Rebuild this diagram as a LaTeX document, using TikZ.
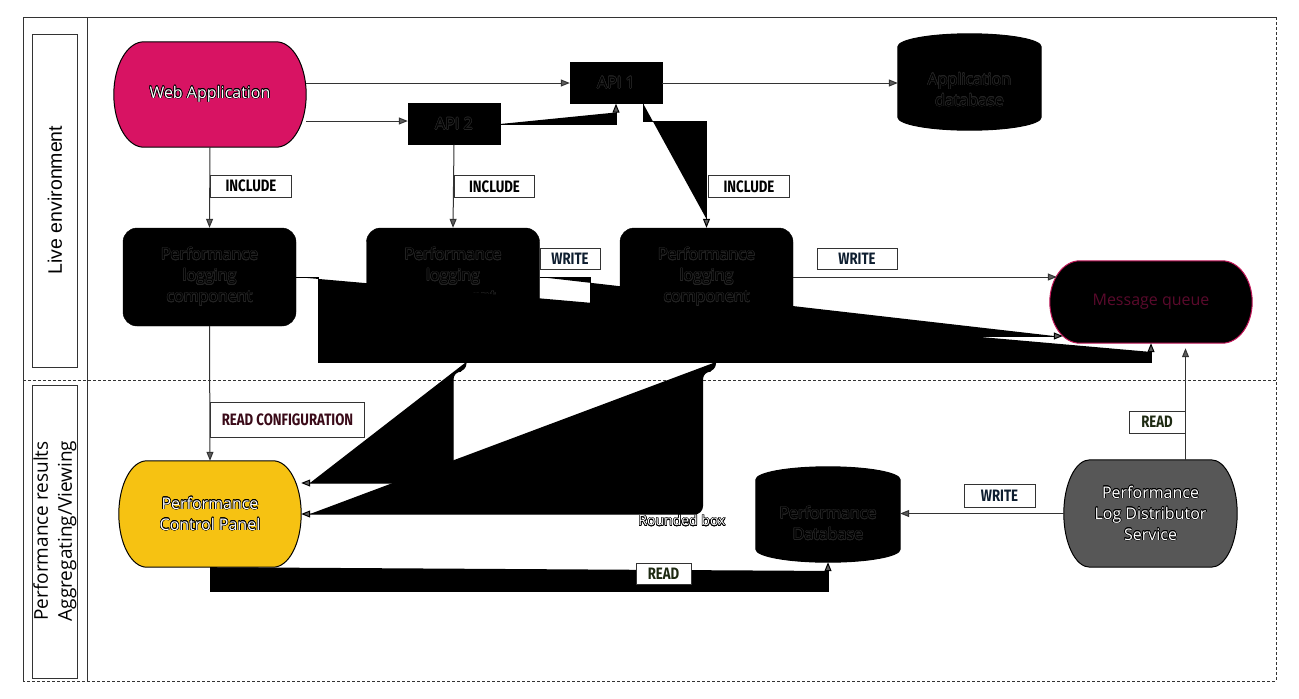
\documentclass[tikz,border=0pt]{standalone}
\usepackage{fontspec}
\setmainfont{Open Sans}
\newfontfamily\lanefont{Liberation Sans}
\newfontfamily\lblfont[FakeStretch=0.8]{Fira Sans}
\usepackage{contour}
\contourlength{0.55pt}
\usetikzlibrary{arrows.meta,calc}
\pgfdeclarelayer{background}
\pgfsetlayers{background,main}

\definecolor{webred}{HTML}{D81363}
\definecolor{panelyellow}{HTML}{F6C212}
\definecolor{distgray}{HTML}{575757}
\definecolor{queueline}{HTML}{C01658}
\definecolor{queuetext}{HTML}{5A0A2C}
\definecolor{linegray}{HTML}{333333}
\definecolor{tipgray}{HTML}{5C5C5C}
\definecolor{writeblue}{HTML}{0E1E30}
\definecolor{confred}{HTML}{3A0A18}
\definecolor{readgreen}{HTML}{1E2A12}

\newcommand{\halo}[1]{\contour{black}{#1}}
\newcommand{\dimhalo}[1]{\contour{black!86}{#1}}
% pill outline behind a node: node, fill, border, end radius
\newcommand{\pillpath}[4]{%
  \path[fill=#2,draw=#3,line width=1pt]
    let \p1=(#1.north), \p2=(#1.south), \n1={0.5*(\y1-\y2)} in
    ([xshift=#4]#1.north west) -- ([xshift=-#4]#1.north east)
    arc[start angle=90,end angle=-90,x radius=#4,y radius=\n1]
    -- ([xshift=#4]#1.south west)
    arc[start angle=270,end angle=90,x radius=#4,y radius=\n1] -- cycle;}
% cylinder outline behind a node: node, end radius
\newcommand{\dbpath}[2]{%
  \path[fill=black,draw=black,line width=1pt]
    let \p1=(#1.west), \p2=(#1.east), \n1={0.5*(\x2-\x1)} in
    ([yshift=-#2]#1.north west) arc[start angle=180,end angle=0,x radius=\n1,y radius=#2]
    -- ([yshift=#2]#1.south east) arc[start angle=0,end angle=-180,x radius=\n1,y radius=#2]
    -- cycle;}

\begin{document}
\begin{tikzpicture}[x=1pt,y=-1pt,
  frame/.style={draw=linegray,line width=1pt},
  lanedash/.style={frame,dash pattern=on 3pt off 2pt},
  conn/.style={draw=linegray,line width=1pt,-{Triangle[length=9pt,width=7pt,fill=tipgray]}},
  blob/.style={conn,draw=black,fill=black},
  pill/.style={align=center,inner sep=0pt,text=white,font=\fontsize{16}{21}\selectfont},
  blackbox/.style={draw=black,fill=black,rounded corners=14pt,minimum width=173pt,minimum height=98pt,
    align=center,inner sep=0pt,text=black,font=\fontsize{16}{21}\selectfont},
  apibox/.style={draw=black,fill=black,minimum width=92pt,minimum height=41pt,inner sep=0pt,
    text=black,font=\fontsize{16}{21}\selectfont},
  dbshape/.style={inner sep=0pt},
  dbtext/.style={align=center,inner sep=0pt,text=black,font=\fontsize{16}{21}\selectfont},
  lbl/.style={draw=linegray,fill=white,line width=1pt,inner sep=0pt,minimum height=22pt,
    font=\lblfont\bfseries\fontsize{16.5}{18}\selectfont}]
\useasboundingbox (0,0) rectangle (1299,699);

% swimlanes
\draw[frame] (1276,17) -- (23,17) -- (23,681);
\draw[frame] (87,17) -- (87,681);
\draw[lanedash] (1276,17) -- (1276,681) -- (23,681);
\draw[lanedash] (23,380) -- (1276,380);
\draw[frame] (32,34) rectangle (77,367);
\draw[frame] (32,385) rectangle (77,678);
\node[rotate=90,font=\lanefont\fontsize{19.5}{22}\selectfont] (livelane) at (55,200) {Live environment};
\node[rotate=90,align=center,font=\fontsize{19}{24}\selectfont] (resultlane) at (55,531)
  {Performance results\\Aggregating/Viewing};

% nodes
\node[pill,minimum width=192pt,minimum height=105pt] (web) at (210,94.5) {\halo{Web Application}};
\node[apibox] (api1) at (616,83) {\dimhalo{API 1}};
\node[apibox] (api2) at (454,124) {\dimhalo{API 2}};
\node[dbshape,minimum width=143pt,minimum height=96pt] (appdb) at (969.5,82) {};
\node[dbtext] (appdbtext) at ([yshift=-8pt]appdb.center) {\dimhalo{Application}\\\dimhalo{database}};
\node[pill,text=queuetext,minimum width=202pt,minimum height=82pt] (queue) at (1151,302) {Message queue};
\node[blackbox] (log1) at (209.5,277) {\dimhalo{Performance}\\\dimhalo{logging}\\\dimhalo{component}};
\node[blackbox] (log2) at (453,277) {\dimhalo{Performance}\\\dimhalo{logging}\\\dimhalo{component}};
\node[pill,minimum width=182pt,minimum height=106pt] (panel) at (210,514)
  {\halo{Performance}\\\halo{Control Panel}};
\node[dbshape,minimum width=144pt,minimum height=95pt] (perfdb) at (828,514.5) {};
\node[dbtext] (perfdbtext) at ([yshift=-9pt]perfdb.center) {\dimhalo{Performance}\\\dimhalo{Database}};
\node[pill,minimum width=173pt,minimum height=107pt] (dist) at (1150.5,513.5)
  {\halo{Performance}\\\halo{Log Distributor}\\\halo{Service}};
\node[font=\fontsize{14}{16}\selectfont,text=white] (rbox) at (682,521) {\halo{Rounded box}};

\begin{pgfonlayer}{background}
  \pillpath{web}{webred}{black}{30pt}
  \pillpath{queue}{black}{queueline}{30pt}
  \pillpath{panel}{panelyellow}{black}{28pt}
  \pillpath{dist}{distgray}{black}{26pt}
  \dbpath{appdb}{13pt}
  \dbpath{perfdb}{13pt}
\end{pgfonlayer}

% connectors
\draw[conn] (web.east |- api1.west) -- (api1.west);
\draw[conn] ([yshift=3pt]web.east |- api2.west) -- ([yshift=3pt]api2.west);
\filldraw[blob] (api2.east) -| (api1.south);
\draw[conn] (api1.east) -- (api1.east -| appdb.west);
\draw[conn] (web.south) -- (log1.north);
\draw[conn] (api2.south) -- (log2.north);
\draw[conn] (log1.south) -- (panel.north);
\filldraw[blob] (log1.east) -- ++(22,0) -- ++(0,85) -| (queue.south);
\filldraw[blob] (log2.east) -- ++(51,0) |- ([xshift=13pt,yshift=-34pt]queue.west);
\node[blackbox] (log3) at (706.5,277) {\dimhalo{Performance}\\\dimhalo{logging}\\\dimhalo{component}};
\filldraw[blob] ([xshift=-19pt]api1.south east) -- ++(0,18) -| (log3.north);
\draw[conn] (log3.east) -- ([xshift=7pt]log3.east -| queue.west);
\coordinate (tail2) at ([xshift=13pt,yshift=-36pt]log2.south);
\coordinate (tail3) at ([xshift=9pt,yshift=-36pt]log3.south);
\filldraw[blob,rounded corners=8pt] (tail2) |- ++(-13,9) |- ([yshift=31pt]panel.east);
\filldraw[blob,rounded corners=8pt] (tail3) |- ++(-13,9) |- (panel.east);
\filldraw[blob] (panel.south) -- ++(0,24) -| (perfdb.south);
\draw[conn] (dist.west) -- (dist.west -| perfdb.east);
\draw[conn,shorten >=5pt] ([xshift=35pt]dist.north) -- ([xshift=35pt]dist.north |- queue.south);

% labels
\node[lbl,anchor=west,minimum width=81pt] (inc1) at (210,186) {INCLUDE};
\node[lbl,anchor=west,minimum width=80pt] (inc2) at (454,186.5) {INCLUDE};
\node[lbl,anchor=west,minimum width=81pt] (inc3) at (708,186.5) {INCLUDE};
\node[lbl,text=writeblue,minimum width=60pt,minimum height=21pt] (write2) at (570,258.5) {WRITE};
\node[lbl,text=writeblue,minimum width=80pt,minimum height=21pt] (write3) at (857,258.5) {WRITE};
\node[lbl,text=confred,anchor=west,minimum width=154pt,minimum height=35pt] (readconf) at (210,419.5) {READ CONFIGURATION};
\node[lbl,text=readgreen,minimum width=55pt,minimum height=21pt] (readdb) at (663.5,573.5) {READ};
\node[lbl,text=writeblue,minimum width=71pt,minimum height=23pt] (writedb) at (999.5,495.5) {WRITE};
\node[lbl,text=readgreen,minimum width=56pt] (readqueue) at (1157,422) {READ};
\end{tikzpicture}
\end{document}
